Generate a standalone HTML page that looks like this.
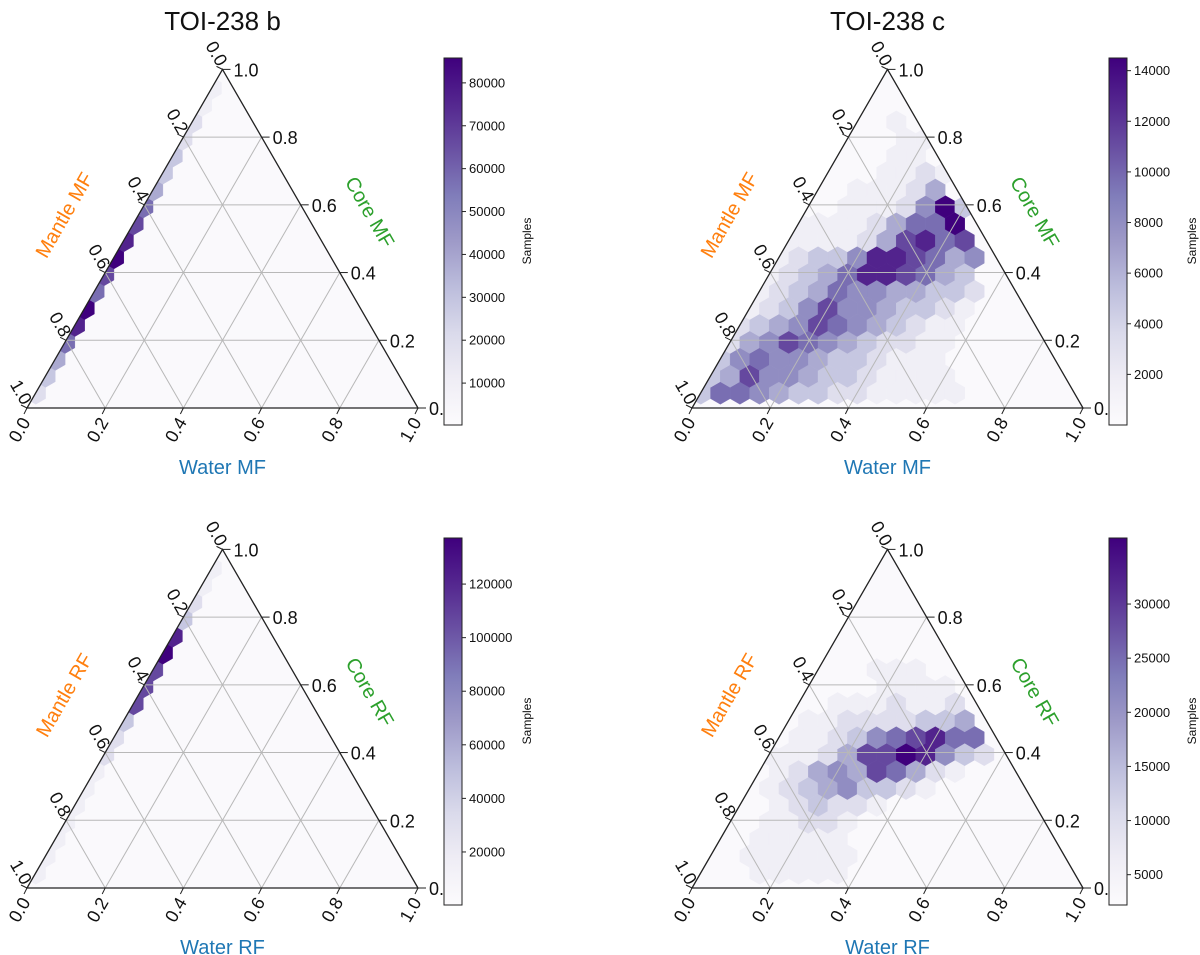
<!DOCTYPE html>
<html><head><meta charset="utf-8"><style>
html,body{margin:0;padding:0;background:#fff;}
svg{display:block;font-family:"Liberation Sans","DejaVu Sans",sans-serif;}
</style></head><body>
<svg id="fig" width="1200" height="955" viewBox="0 0 1200 955" xmlns="http://www.w3.org/2000/svg">
<defs>
<linearGradient id="purples" x1="0" y1="1" x2="0" y2="0">
<stop offset="0" stop-color="#fcfbfd"/><stop offset="0.125" stop-color="#efedf5"/><stop offset="0.25" stop-color="#dadaeb"/><stop offset="0.375" stop-color="#bcbddc"/><stop offset="0.5" stop-color="#9e9ac8"/><stop offset="0.625" stop-color="#807dba"/><stop offset="0.75" stop-color="#6a51a3"/><stop offset="0.875" stop-color="#54278f"/><stop offset="1" stop-color="#3f007d"/>
</linearGradient>
</defs>
</svg>
<script>
// ---- data (hexbin density levels 0..9, by row from bottom, index = column) ----
const gridCmf = [
 [3,6,6,5,4,3,3,2,2,1,1,1,1,1],
 [3,4,7,5,5,4,3,3,2,1,1,1,1],
 [2,3,5,6,5,5,4,3,3,2,1,1,1],
 [1,2,4,5,7,6,5,4,3,2,2,1,1],
 [1,1,2,3,4,5,7,6,5,4,3,2,1,1],
 [0,1,1,2,3,5,7,5,5,4,3,3,2,1],
 [0,1,1,1,2,3,4,6,5,5,4,4,3,3,2],
 [0,0,1,1,2,3,4,6,8,8,7,6,4,3],
 [0,0,0,1,1,2,3,3,5,8,8,7,6,4,5],
 [0,0,0,0,1,1,1,1,2,4,7,8,6,7],
 [0,0,0,0,0,1,1,1,1,2,4,6,6,9],
 [0,0,0,0,0,0,0,1,1,1,2,5,9,3],
 [0,0,0,0,0,0,0,0,1,1,1,2,4],
 [0,0,0,0,0,0,0,0,0,1,1,2,1],
 [0,0,0,0,0,0,0,0,0,0,1,1],
 [0,0,0,0,0,0,0,0,0,0,1,1],
 [0,0,0,0,0,0,0,0,0,0,1]
];
const gridCrf = [
 [0,0,0,1,1,1,1,1],
 [0,0,1,1,1,1,1,1],
 [0,0,0,1,1,1,1,1],
 [0,0,0,1,1,2,2,1],
 [0,0,0,0,1,2,3,2,2,1],
 [0,0,0,1,2,3,4,5,3,3,2,1],
 [0,0,0,0,1,2,4,5,4,7,6,4,2,1],
 [0,0,0,1,1,1,2,4,7,7,9,8,5,3,2],
 [0,0,0,0,0,1,1,2,3,5,6,7,8,6,6],
 [0,0,0,0,0,1,1,2,2,2,2,3,3,4],
 [0,0,0,0,0,0,0,1,1,1,2,1,1,2],
 [0,0,0,0,0,0,0,0,0,1,1,1,1],
 [0,0,0,0,0,0,0,0,0,1,1,1]
];
// TOI-238 b: only the cell touching the left (zero-water) edge is populated
const edgeBmf = [2,3,4,6,8,9,6,7,9,8,7,6,4,3,3,2,2,1,1];
const edgeBrf = [1,1,1,1,1,1,1,2,2,3,7,7,7,9,8,3,2,1,1];
const cbMinTicks = [[10000,20000,30000,40000,50000,60000,70000,80000],[2000,4000,6000,8000,10000,12000,14000],[20000,40000,60000,80000,100000,120000],[5000,10000,15000,20000,25000,30000]];
const cbRanges = [[230,85800],[0,14500],[200,137200],[2200,36100]];
const ticks = [0,0.2,0.4,0.6,0.8,1.0];
const tickText = ["0.0","0.2","0.4","0.6","0.8","1.0"];

const svg = document.getElementById('fig');
const NS = 'http://www.w3.org/2000/svg';
const stops = ['#fcfbfd','#efedf5','#dadaeb','#bcbddc','#9e9ac8','#807dba','#6a51a3','#54278f','#3f007d'];
function hex2rgb(h){return [1,3,5].map(i=>parseInt(h.substr(i,2),16));}
function cmap(t){t=Math.max(0,Math.min(1,t));const p=t*8;const i=Math.min(7,Math.floor(p));const f=p-i;const a=hex2rgb(stops[i]),b=hex2rgb(stops[i+1]);return 'rgb('+a.map((v,k)=>Math.round(v+(b[k]-v)*f)).join(',')+')';}
function mk(tag,attrs,parent){const e=document.createElementNS(NS,tag);for(const k in attrs)e.setAttribute(k,attrs[k]);(parent||svg).appendChild(e);return e;}

const L=27, B=408, W=391, H=W*Math.sqrt(3)/2;
const DX=19.55, R=DX/Math.sqrt(3), DY=1.5*R;
function rowY(r){return B-15-DY*r;}
function colX(r,c){return L+(r%2?18.5:8.8)+c*DX;}
function hexPts(cx,cy){let s=[];for(let k=0;k<6;k++){const a=Math.PI/180*(60*k-90);s.push((cx+R*Math.cos(a)).toFixed(2)+','+(cy+R*Math.sin(a)).toFixed(2));}return s.join(' ');}

const panels=[
 {ox:0,oy:0,title:'TOI-238 b',suf:'MF',kind:'edge',data:edgeBmf,name:'b-mass'},
 {ox:665,oy:0,title:'TOI-238 c',suf:'MF',kind:'grid',data:gridCmf,name:'c-mass'},
 {ox:0,oy:480,title:null,suf:'RF',kind:'edge',data:edgeBrf,name:'b-radius'},
 {ox:665,oy:480,title:null,suf:'RF',kind:'grid',data:gridCrf,name:'c-radius'}
];

panels.forEach((p,pi)=>{
 const g=mk('g',{transform:'translate('+p.ox+','+p.oy+')'});
 
 
 const clipId='clip'+pi;
 const cp=mk('clipPath',{id:clipId},g);
 const triPts=L+','+B+' '+(L+W)+','+B+' '+(L+W/2)+','+(B-H);
 mk('polygon',{points:triPts},cp);
 const bg=mk('polygon',{points:triPts,fill:cmap(0.015)},g);
 
 
 const hg=mk('g',{'clip-path':'url(#'+clipId+')'},g);
 
 
 function cell(r,c,v){
  if(v<=0)return;
  const cx=colX(r,c), cy=rowY(r);
  const hx=mk('polygon',{points:hexPts(cx,cy),fill:cmap(v/9),stroke:cmap(v/9),'stroke-width':0.4},hg);
  
  
 }
 if(p.kind==='grid'){
  p.data.forEach((row,r)=>row.forEach((v,c)=>cell(r,c,v)));
 } else {
  p.data.forEach((v,r)=>{
   const h=B-rowY(r); const ex=L+h/Math.sqrt(3);
   let c=0; while(colX(r,c)<ex-3)c++;
   cell(r,c,v);
  });
 }
 // grid lines
 const gl=mk('g',{stroke:'#b8b8b8','stroke-width':1,fill:'none'},g);
 
 
 for(let k=1;k<5;k++){
  const t=k/5;
  const y=B-t*H, xl=L+t*W/2, xr=L+W-t*W/2;
  mk('line',{x1:xl,y1:y,x2:xr,y2:y},gl);
  const bx=L+t*W;
  mk('line',{x1:bx,y1:B,x2:bx+(1-t)*W/2,y2:B-(1-t)*H},gl);
  mk('line',{x1:bx,y1:B,x2:L+t*W/2,y2:B-t*H},gl);
 }
 const tri=mk('polygon',{points:triPts,fill:'none',stroke:'#222','stroke-width':1.3},g);
 
 
 // ticks
 ticks.forEach((t,i)=>{
  // bottom (water)
  const bx=L+t*W;
  mk('line',{x1:bx,y1:B,x2:bx-3,y2:B+6,stroke:'#222','stroke-width':1},g);
  const bt=mk('text',{x:bx+4,y:B+14,'font-size':18,'text-anchor':'end',fill:'#111',transform:'rotate(-60 '+(bx+4)+' '+(B+14)+')'},g);
  bt.textContent=tickText[i];
  
  
  // right (core): value t at height t
  const rx=L+W-t*W/2, ry=B-t*H;
  mk('line',{x1:rx,y1:ry,x2:rx+8,y2:ry,stroke:'#222','stroke-width':1},g);
  const rt=mk('text',{x:rx+11,y:ry+7,'font-size':18,fill:'#111'},g);
  rt.textContent=(t===0)?'0.0':tickText[i];
  
  
  // left (mantle): 0 at top, 1 at bottom-left
  const lx=L+(1-t)*W/2, ly=B-(1-t)*H;
  mk('line',{x1:lx,y1:ly,x2:lx-6,y2:ly-3,stroke:'#222','stroke-width':1},g);
  const lt=mk('text',{x:lx-5,y:ly-2,'font-size':18,'text-anchor':'end',fill:'#111',transform:'rotate(60 '+(lx-5)+' '+(ly-2)+')'},g);
  lt.textContent=tickText[i];
  
  
 });
 // axis labels
 const wl=mk('text',{x:L+W/2,y:B+66,'font-size':20,'text-anchor':'middle',fill:'#1f77b4'},g);
 wl.textContent='Water '+p.suf;
 
 
 const cl=mk('text',{x:370,y:219,'font-size':20,'text-anchor':'middle',fill:'#2ca02c',transform:'rotate(60 370 212)'},g);
 cl.textContent='Core '+p.suf;
 
 
 const ml=mk('text',{x:64,y:222,'font-size':20,'text-anchor':'middle',fill:'#ff7f0e',transform:'rotate(-60 64 215)'},g);
 ml.textContent='Mantle '+p.suf;
 
 
 if(p.title){
  const tt=mk('text',{x:L+W/2,y:30,'font-size':26,'text-anchor':'middle',fill:'#111'},g);
  tt.textContent=p.title;
  
  
 }
 // colorbar
 const cbx=444, cbt=58, cbb=425, cbw=18;
 const cb=mk('rect',{x:cbx,y:cbt,width:cbw,height:cbb-cbt,fill:'url(#purples)',stroke:'#222','stroke-width':1},g);
 
 
 const [mn,mx]=cbRanges[pi];
 cbMinTicks[pi].forEach(v=>{
  const y=cbb-(v-mn)/(mx-mn)*(cbb-cbt);
  mk('line',{x1:cbx+cbw,y1:y,x2:cbx+cbw+4,y2:y,stroke:'#222','stroke-width':1},g);
  const ct=mk('text',{x:cbx+cbw+7,y:y+4.5,'font-size':13,fill:'#111'},g);
  ct.textContent=String(v);
  
  
 });
 const sl=mk('text',{x:0,y:0,'font-size':12,'text-anchor':'middle',fill:'#111',transform:'translate(531 241) rotate(-90)'},g);
 sl.textContent='Samples';
 
 
});
</script>
</body></html>
